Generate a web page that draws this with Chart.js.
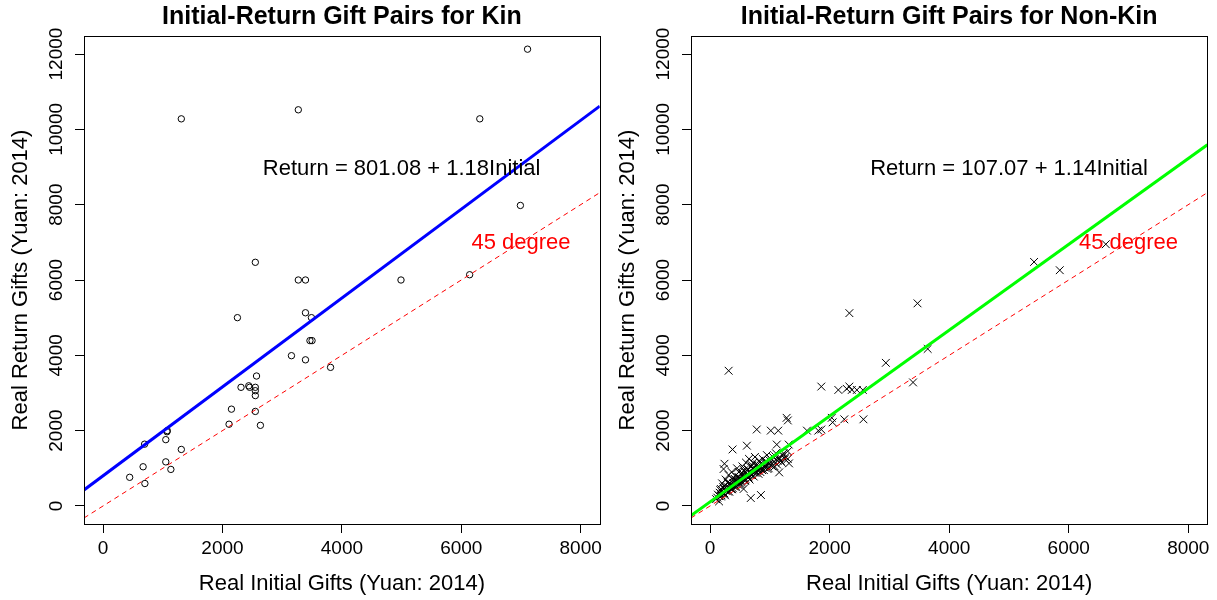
<!DOCTYPE html>
<html>
<head>
<meta charset="utf-8">
<script src="https://cdn.jsdelivr.net/npm/chart.js@4.4.0/dist/chart.umd.min.js"></script>
<style>
  html, body { margin: 0; padding: 0; background: #fff; }
  #wrap { position: relative; width: 1217px; height: 600px; }
  .panel { position: absolute; top: 0; height: 600px; }
  #kin { left: 0; width: 606px; }
  #nonkin { left: 606px; width: 611px; }
</style>
</head>
<body>
<div id="wrap">
  <div class="panel" id="kin"><canvas id="kinChart"></canvas></div>
  <div class="panel" id="nonkin"><canvas id="nonkinChart"></canvas></div>
</div>
<script>
// Ejes (mismo rango en ambos paneles)
const xTicks = [0, 2000, 4000, 6000, 8000];
const yTicks = [0, 2000, 4000, 6000, 8000, 10000, 12000];
const xLimits = [-320, 8320];
const yLimits = [-480, 12480];

// Parientes: regalo inicial vs regalo de vuelta
const kinInitial = [7110, 1310, 3270, 6310, 6990, 2550, 6140, 3270, 3390, 4990,
                    3390, 3490, 2250, 3465, 3500, 3155, 3390, 3810, 2570, 2310,
                    2440, 2455, 2550, 2550, 2550, 2150, 2550, 2110, 2635, 1070,
                    1075, 1050, 695, 1310, 670, 1050, 1135, 445, 700];
const kinReturn = [12130, 10280, 10520, 10280, 7980, 6470, 6140, 6000, 6000, 6000,
                   5130, 5000, 5000, 4390, 4390, 3990, 3880, 3680, 3450, 3150,
                   3190, 3150, 3150, 3060, 2930, 2570, 2510, 2170, 2140, 1970,
                   2000, 1760, 1640, 1500, 1040, 1170, 970, 760, 595];

// No parientes: puntos sueltos y la nube cerca del origen
const nonKinInitial = [5420, 5850, 6620, 3470, 2330, 310, 3640, 2940, 3395, 1860,
                       2145, 2285, 2330, 2370, 2455, 2555, 2245, 2565, 2035, 2050,
                       1280, 1300, 1810, 1860, 1620, 780, 1015, 1140, 375, 615,
                       1115, 1315, 1320, 1300, 1155, 850, 680, 560, 240, 225,
                       100, 130, 150, 170, 180, 200, 210, 230, 250, 260,
                       280, 300, 310, 330, 350, 360, 380, 400, 420, 440,
                       450, 470, 480, 500, 520, 540, 550, 570, 590, 600,
                       620, 640, 650, 670, 690, 700, 720, 740, 750, 770,
                       790, 800, 820, 840, 860, 880, 900, 920, 950, 980,
                       1000, 1020, 1050, 1080, 1100, 1130, 1160, 1200, 1230, 1260, 1300,
                       120, 160, 190, 220, 240, 270, 290, 320, 340, 370,
                       390, 410, 430, 460, 490, 510, 530, 560, 580, 610,
                       630, 660, 680, 710, 730, 760, 780, 810, 830, 850,
                       870, 890, 910, 940, 960, 990, 1010, 1040, 1070, 1090,
                       1120, 1150, 1180, 1210, 1250, 150, 200, 260, 320, 380,
                       430, 480, 530, 590, 640, 690, 740, 800, 860, 920,
                       180, 240, 300, 360, 420, 470, 520, 580, 630, 700];
const nonKinReturn = [6480, 6260, 6950, 5380, 5120, 3590, 4170, 3800, 3280, 3170,
                      3080, 3110, 3170, 3080, 3080, 3080, 2300, 2300, 2340, 2220,
                      2340, 2270, 2000, 2030, 2000, 2030, 2000, 2000, 1500, 1600,
                      1630, 1630, 1130, 1250, 890, 290, 210, 450, 1120, 980,
                      180, 300, 120, 420, 250, 600, 350, 450, 280, 700,
                      520, 380, 820, 600, 450, 900, 700, 520, 800, 650,
                      1000, 560, 900, 700, 620, 1050, 800, 950, 680, 1150,
                      850, 760, 1250, 900, 1050, 820, 1150, 950, 1300, 880,
                      1100, 1000, 1200, 900, 1050, 1250, 950, 1150, 1350, 1000,
                      1200, 1100, 1300, 1050, 1400, 1200, 1250, 1150, 1400, 1300, 1450,
                      220, 350, 280, 500, 330, 420, 620, 480, 560, 440,
                      600, 720, 540, 680, 760, 580, 880, 740, 660, 820,
                      960, 700, 860, 1000, 780, 920, 1080, 850, 1000, 1130,
                      950, 1100, 1020, 1180, 980, 1120, 1250, 1050, 1180, 1320,
                      1100, 1280, 1200, 1350, 1250, 260, 330, 400, 380, 470,
                      500, 620, 650, 720, 760, 820, 880, 940, 1000, 1060,
                      450, 520, 640, 560, 700, 760, 850, 900, 980, 1080];

// Coeficientes de la regresión
const kinIntercept = 801.08, kinSlope = 1.18;
const nonKinIntercept = 107.07, nonKinSlope = 1.14;

const FONT = '"Liberation Sans", Arial, Helvetica, sans-serif';

function toPoints(xs, ys) {
    return xs.map((x, i) => ({ x: x, y: ys[i] }));
}

// Recta a lo ancho de todo el eje x
function fullLine(intercept, slope) {
    return xLimits.map(x => ({ x: x, y: intercept + slope * x }));
}

// Caja, etiquetas del eje y giradas, títulos y textos dentro del gráfico
const rFrame = {
    id: 'rFrame',
    afterDraw(chart, args, opts) {
        const ctx = chart.ctx;
        const area = chart.chartArea;
        const xs = chart.scales.x;
        const ys = chart.scales.y;
        const midX = (area.left + area.right) / 2;
        const midY = (area.top + area.bottom) / 2;

        ctx.save();
        ctx.strokeStyle = '#000';
        ctx.lineWidth = 1;
        ctx.strokeRect(Math.round(area.left) + 0.5, Math.round(area.top) + 0.5,
                       Math.round(area.right - area.left), Math.round(area.bottom - area.top));

        ctx.fillStyle = '#000';
        ctx.textAlign = 'center';
        ctx.textBaseline = 'middle';

        // números del eje y, paralelos al eje
        ctx.font = '19px ' + FONT;
        yTicks.forEach(v => {
            ctx.save();
            ctx.translate(area.left - 27, ys.getPixelForValue(v));
            ctx.rotate(-Math.PI / 2);
            ctx.fillText(String(v), 0, 0);
            ctx.restore();
        });

        ctx.font = '22px ' + FONT;
        ctx.fillText('Real Initial Gifts (Yuan: 2014)', midX, area.bottom + 60);
        ctx.save();
        ctx.translate(area.left - 63, midY);
        ctx.rotate(-Math.PI / 2);
        ctx.fillText('Real Return Gifts (Yuan: 2014)', 0, 0);
        ctx.restore();

        ctx.font = 'bold 25px ' + FONT;
        ctx.fillText(opts.title, midX, 17);

        ctx.font = '22px ' + FONT;
        ctx.fillText(opts.equation, xs.getPixelForValue(5000), ys.getPixelForValue(9000) + 2);
        ctx.fillStyle = '#ff0000';
        ctx.fillText('45 degree', xs.getPixelForValue(7000), ys.getPixelForValue(7000) + 1);
        ctx.restore();
    }
};

function makeChart(canvasId, cfg) {
    const ctx = document.getElementById(canvasId).getContext('2d');
    const axisGrid = { drawOnChartArea: false, drawTicks: true, tickLength: 9, color: '#000', lineWidth: 1 };
    return new Chart(ctx, {
        type: 'scatter',
        data: {
            datasets: [
                {
                    data: fullLine(cfg.intercept, cfg.slope),
                    showLine: true,
                    borderColor: cfg.lineColor,
                    borderWidth: 3,
                    pointRadius: 0,
                    order: 0
                },
                {
                    data: fullLine(0, 1),
                    showLine: true,
                    borderColor: '#ff0000',
                    borderWidth: 1,
                    borderDash: [5, 4],
                    pointRadius: 0,
                    order: 1
                },
                {
                    data: toPoints(cfg.initial, cfg.ret),
                    pointStyle: cfg.pointStyle,
                    pointRadius: cfg.pointRadius,
                    borderColor: '#000',
                    backgroundColor: 'rgba(0,0,0,0)',
                    borderWidth: 1,
                    order: 2
                }
            ]
        },
        options: {
            responsive: true,
            maintainAspectRatio: false,
            animation: false,
            layout: { padding: { top: 36, right: cfg.padRight, left: 0, bottom: 0 } },
            plugins: {
                legend: { display: false },
                tooltip: { enabled: false },
                rFrame: { title: cfg.title, equation: cfg.equation }
            },
            scales: {
                x: {
                    type: 'linear',
                    min: xLimits[0],
                    max: xLimits[1],
                    afterBuildTicks: s => { s.ticks = xTicks.map(v => ({ value: v })); },
                    afterFit: s => { s.height = 76; },
                    border: { display: false },
                    grid: axisGrid,
                    ticks: {
                        color: '#000',
                        font: { family: FONT, size: 19 },
                        padding: 4,
                        maxRotation: 0,
                        autoSkip: false,
                        callback: v => String(v)
                    }
                },
                y: {
                    type: 'linear',
                    min: yLimits[0],
                    max: yLimits[1],
                    afterBuildTicks: s => { s.ticks = yTicks.map(v => ({ value: v })); },
                    afterFit: s => { s.width = cfg.yWidth; },
                    border: { display: false },
                    grid: axisGrid,
                    ticks: { display: false }
                }
            }
        },
        plugins: [rFrame]
    });
}

makeChart('kinChart', {
    initial: kinInitial,
    ret: kinReturn,
    intercept: kinIntercept,
    slope: kinSlope,
    lineColor: '#0000ff',
    pointStyle: 'circle',
    pointRadius: 3.2,
    padRight: 4.3,
    yWidth: 84,
    title: 'Initial-Return Gift Pairs for Kin',
    equation: 'Return = 801.08 + 1.18Initial'
});

makeChart('nonkinChart', {
    initial: nonKinInitial,
    ret: nonKinReturn,
    intercept: nonKinIntercept,
    slope: nonKinSlope,
    lineColor: '#00ff00',
    pointStyle: 'crossRot',
    pointRadius: 5.5,
    padRight: 9.6,
    yWidth: 85,
    title: 'Initial-Return Gift Pairs for Non-Kin',
    equation: 'Return = 107.07 + 1.14Initial'
});
</script>
</body>
</html>
